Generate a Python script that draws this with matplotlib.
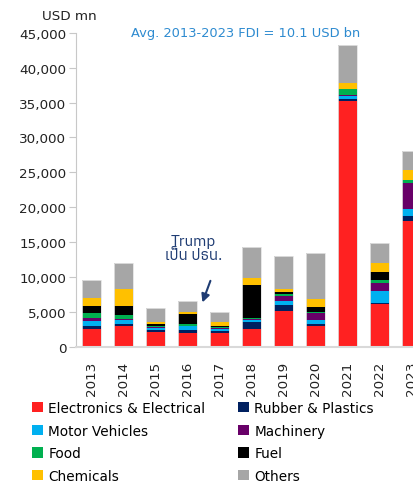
import numpy as np
import matplotlib
matplotlib.use("Agg")
import matplotlib.pyplot as plt
from matplotlib.patches import Patch
from matplotlib.ticker import FuncFormatter

# FDI by sector, USD mn
years = ["2013", "2014", "2015", "2016", "2017", "2018", "2019", "2020", "2021", "2022", "2023"]
electronics = [2500, 3000, 2100, 1900, 1900, 2500, 5100, 3000, 35200, 6150, 18000]
rubber = [500, 200, 300, 500, 300, 950, 860, 200, 300, 150, 700]
motor = [700, 600, 250, 530, 300, 350, 570, 570, 400, 1650, 1060]
machinery = [350, 200, 150, 50, 100, 200, 720, 1050, 200, 1220, 3720]
food = [700, 500, 150, 250, 150, 150, 220, 150, 800, 360, 430]
fuel = [1050, 1350, 300, 1430, 200, 4670, 360, 720, 50, 1220, 50]
chemicals = [1100, 2450, 330, 330, 600, 1060, 460, 1180, 860, 1290, 1330]
others = [2650, 3750, 1950, 1580, 1450, 4380, 4730, 6590, 5400, 2840, 2760]

series = [
    ("Electronics & Electrical", electronics, "#ff2121"),
    ("Rubber & Plastics", rubber, "#002060"),
    ("Motor Vehicles", motor, "#00b0f0"),
    ("Machinery", machinery, "#680068"),
    ("Food", food, "#00b050"),
    ("Fuel", fuel, "#000000"),
    ("Chemicals", chemicals, "#ffc000"),
    ("Others", others, "#a6a6a6"),
]

fig = plt.figure(figsize=(4.14, 4.85), dpi=100)
ax = fig.add_axes([0.1836, 0.2835, 0.8495, 0.6464])

x = np.arange(len(years))
bottom = np.zeros(len(years))
handles = {}
for name, vals, col in series:
    vals = np.array(vals, dtype=float)
    ax.bar(x, vals, 0.59, bottom=bottom, color=col, edgecolor="none")
    bottom += vals
    handles[name] = Patch(facecolor=col, edgecolor="none", label=name)

# thin light outline round each stacked bar
ax.bar(x, bottom, 0.59, facecolor="none", edgecolor="#e2e2e2", linewidth=0.6)

ax.set_xlim(-0.49, 10.5)
ax.set_ylim(0, 45000)
ax.set_yticks(np.arange(0, 45001, 5000))
ax.yaxis.set_major_formatter(FuncFormatter(lambda v, p: f"{v:,.0f}"))
ax.set_xticks(x)
ax.set_xticklabels(years, rotation=90)

for s in ["top", "right"]:
    ax.spines[s].set_visible(False)
ax.spines["left"].set_color("#c8c8c8")
ax.spines["bottom"].set_color("#d9d9d9")
ax.spines["bottom"].set_linewidth(1.5)
ax.tick_params(axis="y", length=5, color="#c8c8c8", labelsize=9.7, labelcolor="#222222", pad=2)
ax.tick_params(axis="x", length=0, labelsize=9.7, labelcolor="#222222", pad=10)

fig.text(42 / 414, 1 - 16 / 485, "USD mn", fontsize=9.7, color="#222222", va="center", ha="left")
fig.text(246 / 414, 1 - 33 / 485, "Avg. 2013-2023 FDI = 10.1 USD bn",
         fontsize=9.4, color="#2e8bd0", ha="center", va="center")

ax.annotate("", xy=(3.43, 5950), xytext=(3.74, 9800),
            arrowprops=dict(arrowstyle="-|>", color="#1f3c73", lw=1.5, mutation_scale=12))
ax.text(3.17, 14100, "Trump\nเป็น ปธน.", family=["Anuphan", "DejaVu Sans"],
        fontsize=11, color="#1f3c73", ha="center", va="center", linespacing=1.0)

order = ["Electronics & Electrical", "Motor Vehicles", "Food", "Chemicals",
         "Rubber & Plastics", "Machinery", "Fuel", "Others"]
fig.legend([handles[n] for n in order], order, ncol=2, frameon=False,
           loc="upper left", bbox_to_anchor=(32 / 414, 1 - 402 / 485),
           borderaxespad=0, borderpad=0, fontsize=9.8,
           handlelength=0.8, handleheight=0.8, handletextpad=0.4,
           columnspacing=2.4, labelspacing=0.63)

fig.savefig("out.png", dpi=100)
